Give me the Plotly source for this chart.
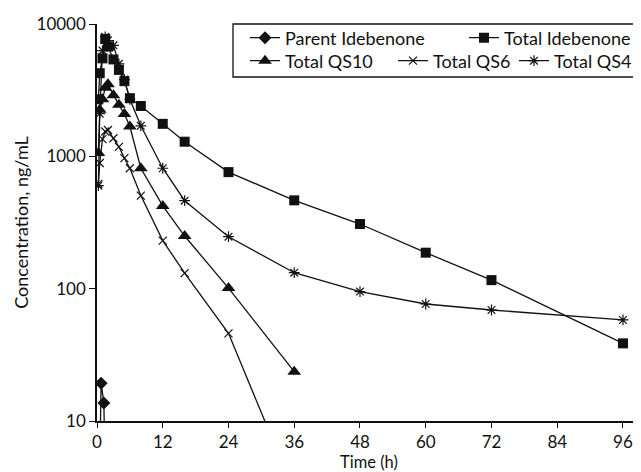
import plotly.graph_objects as go

# ---- data ----
parent_t = [0.25, 0.75, 1.25, 1.75]
parent_v = [1, 19.3, 13.7, 1]

tide_t = [0.25, 0.5, 1, 1.5, 2, 3, 4, 5, 6, 8, 12, 16, 24, 36, 48, 60, 72, 96]
tide_v = [2700, 4250, 5500, 7700, 6750, 5400, 4500, 3700, 2750, 2400, 1760, 1290, 760, 465, 308, 187, 116, 38.6]

qs10_t = [0.25, 0.5, 1, 1.5, 2, 3, 4, 5, 6, 8, 12, 16, 24, 36]
qs10_v = [1060, 2250, 2700, 3300, 3500, 2900, 2450, 2090, 1680, 813, 422, 250, 101, 23.6]

qs6_t = [0.25, 0.5, 1, 1.5, 2, 3, 4, 5, 6, 8, 12, 16, 24, 36]
qs6_v = [620, 890, 1350, 1540, 1580, 1370, 1180, 968, 813, 505, 231, 131, 46, 2.9]

qs4_t = [0.25, 0.5, 1, 1.5, 2, 3, 4, 5, 6, 8, 12, 16, 24, 36, 48, 60, 72, 96]
qs4_v = [600, 2100, 6300, 8000, 7500, 6900, 5000, 3800, 2700, 1700, 813, 462, 247, 132, 95, 76.6, 69, 58]

x_ticks = [0, 12, 24, 36, 48, 60, 72, 84, 96]
y_ticks = [10, 100, 1000, 10000]

FONT = "Lato"
BLACK = "#111111"

fig = go.Figure()

def add(name, t, v, symbol, size, legend, open_marker=False):
    marker = dict(symbol=symbol, size=size, color=BLACK)
    if open_marker:
        marker["line"] = dict(color=BLACK, width=1.2)
    fig.add_trace(go.Scatter(
        x=t, y=v, name=name, mode="lines+markers",
        line=dict(color=BLACK, width=1.3),
        marker=marker, legend=legend,
    ))

add("Parent Idebenone", parent_t, parent_v, "diamond", 10, "legend")
add("Total Idebenone", tide_t, tide_v, "square", 10, "legend2")
add("Total QS10", qs10_t, qs10_v, "triangle-up", 12, "legend3")
add("Total QS6", qs6_t, qs6_v, "x-thin", 8, "legend4", open_marker=True)
add("Total QS4", qs4_t, qs4_v, "asterisk-open", 9, "legend5", open_marker=True)

# page offset of the plot div (default body margin)
OFF = 8
W, H = 641, 472
# desired plot area in page pixels: x 97..641, y 24..421
PL, PR, PT, PB = 97, 641, 24, 421
L, T = PL - OFF, PT - OFF
R = W - (PR - OFF)
B = H - (PB - OFF)
pw, ph = PR - PL, PB - PT

def px(x):
    return (x - PL) / pw

def py(y):
    return (PB - y) / ph

leg_common = dict(bgcolor="rgba(0,0,0,0)", borderwidth=0,
                   font=dict(family=FONT, size=18, color=BLACK),
                   xanchor="left", yanchor="middle", orientation="h")

layout_legends = {
    "legend": dict(x=px(245), y=py(38), **leg_common),
    "legend2": dict(x=px(464), y=py(38), **leg_common),
    "legend3": dict(x=px(245), y=py(61), **leg_common),
    "legend4": dict(x=px(393), y=py(61), **leg_common),
    "legend5": dict(x=px(514), y=py(61), **leg_common),
}

fig.update_layout(
    width=W, height=H,
    margin=dict(l=L, r=R, t=T, b=B, pad=0, autoexpand=False),
    plot_bgcolor="white", paper_bgcolor="white",
    font=dict(family=FONT, size=17, color=BLACK),
    showlegend=True,
    xaxis=dict(
        range=[0, (PR - PL) / 5.479], tickvals=x_ticks, ticktext=[str(v) for v in x_ticks],
        showline=True, linecolor=BLACK, linewidth=1.5, showgrid=False, zeroline=False,
        ticks="outside", ticklen=5, tickwidth=1.3, tickcolor=BLACK, automargin=False,
        title=dict(text="Time (h)", standoff=0, font=dict(size=16.5)),
        tickfont=dict(size=17),
    ),
    yaxis=dict(
        type="log", range=[1, 4], tickvals=y_ticks, ticktext=[str(v) for v in y_ticks],
        showline=True, linecolor=BLACK, linewidth=1.5, showgrid=False, zeroline=False,
        ticks="outside", ticklen=6, tickwidth=1.3, tickcolor=BLACK, automargin=False,
        title=dict(text="Concentration, ng/mL", standoff=3, font=dict(size=18)),
        tickfont=dict(size=17),
    ),
    shapes=[dict(type="rect", xref="paper", yref="paper",
                 x0=px(233), x1=px(638), y0=py(77), y1=py(24),
                 line=dict(color=BLACK, width=1.3), fillcolor="rgba(0,0,0,0)")],
    **layout_legends,
)

fig.write_html("out.html")
